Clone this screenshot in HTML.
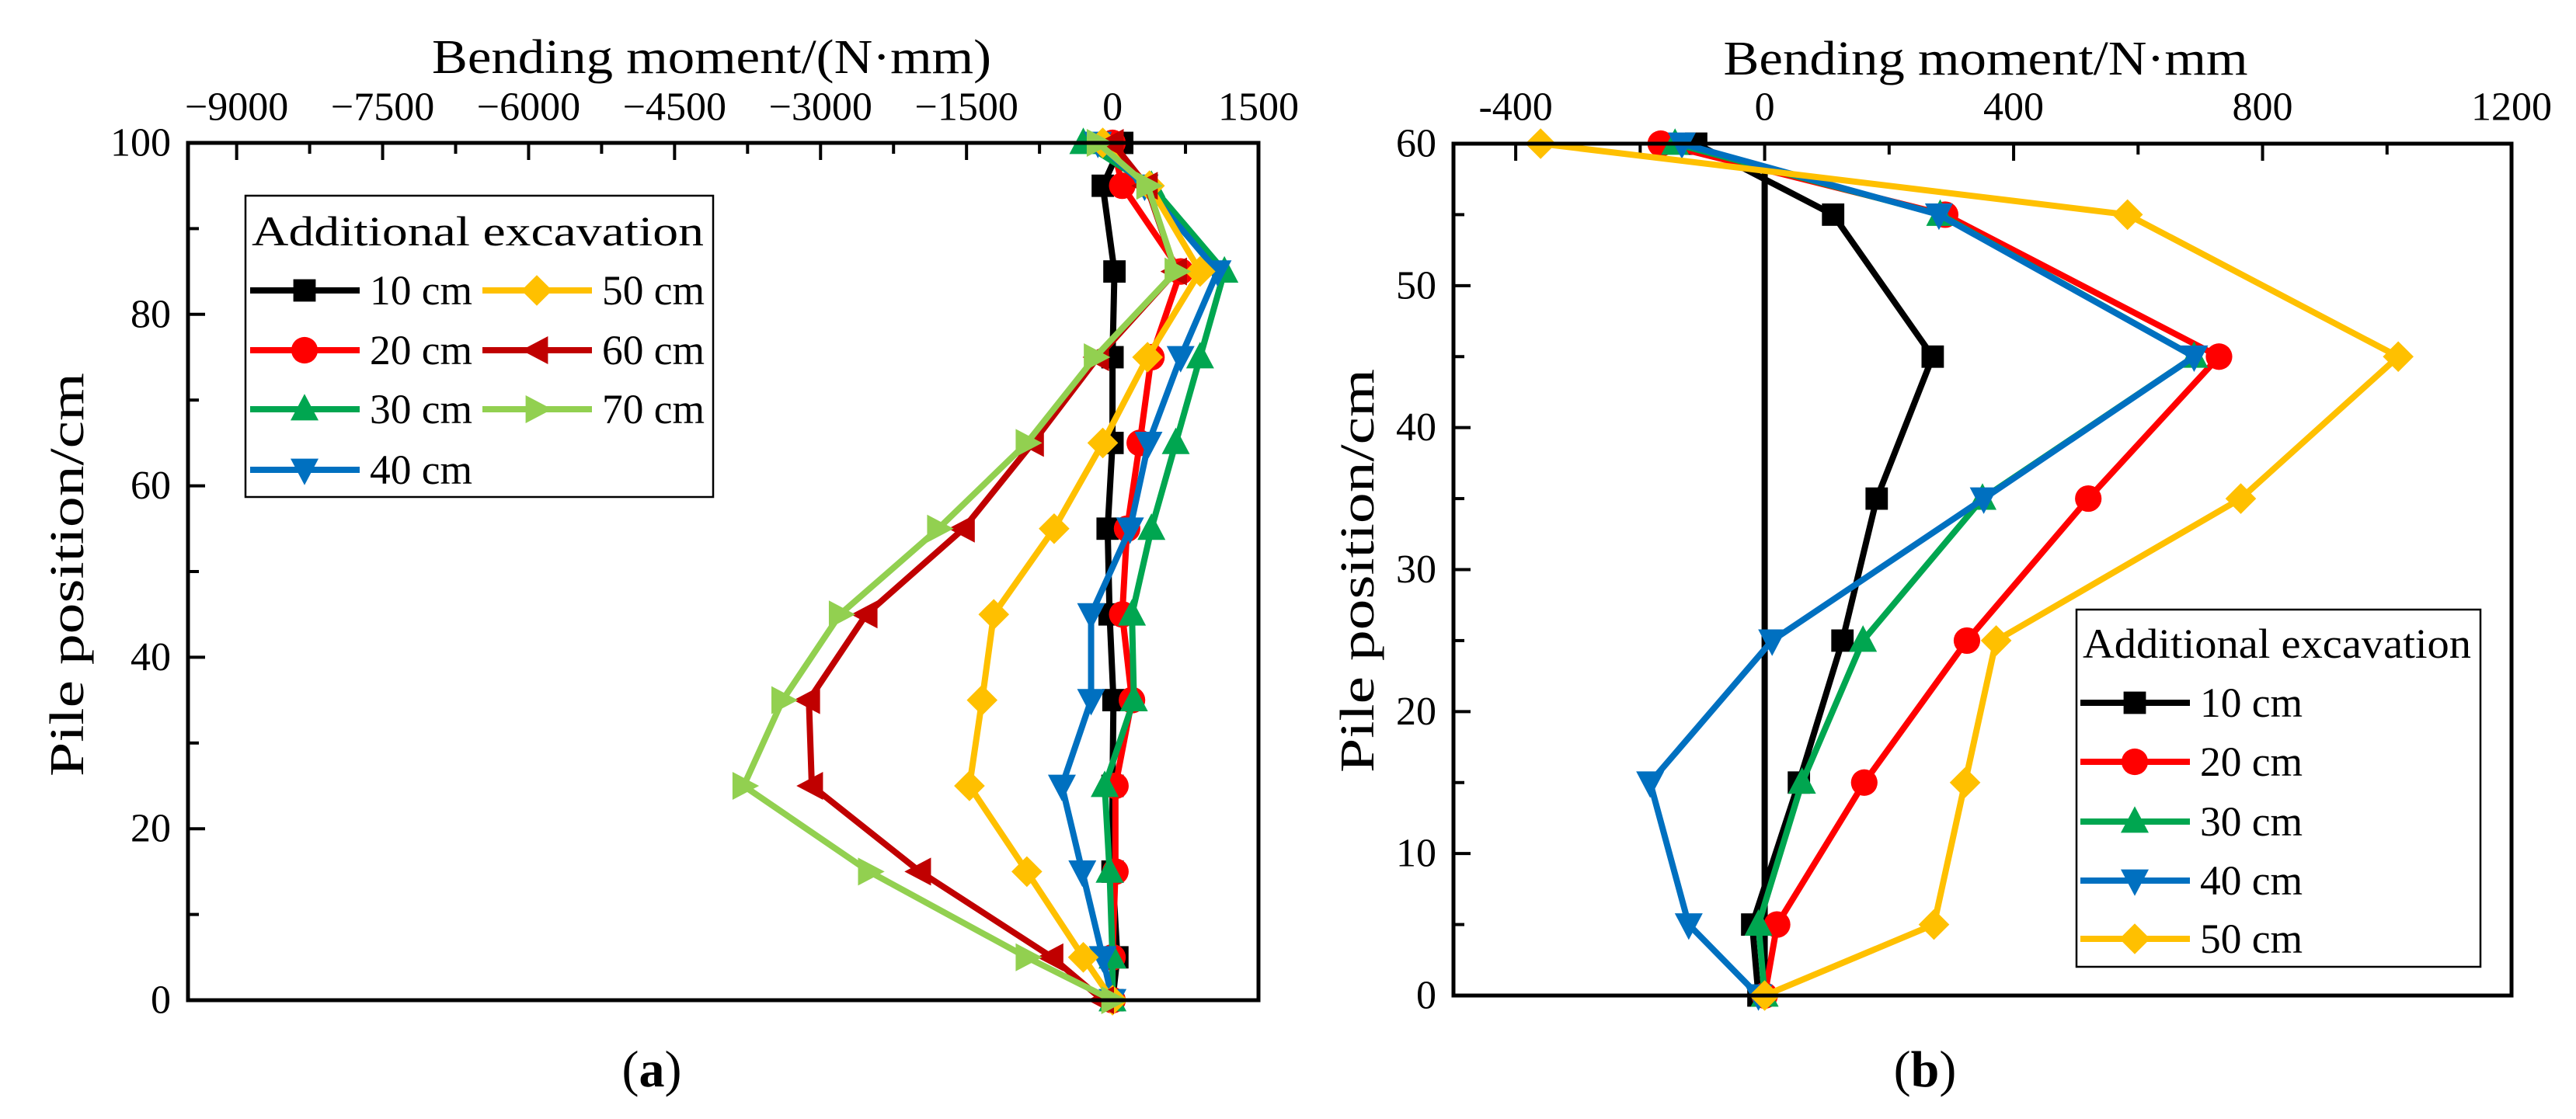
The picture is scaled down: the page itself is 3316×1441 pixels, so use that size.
<!DOCTYPE html>
<html><head><meta charset="utf-8"><style>
html,body{margin:0;padding:0;background:#fff}
svg{display:block}
text{font-family:"Liberation Serif",serif;fill:#000}
</style></head><body>
<svg id="svg" width="3316" height="1441" viewBox="0 0 3316 1441" xmlns="http://www.w3.org/2000/svg"></svg>
<script>
// ---- Panel (a) data ----
const yLevelsA = [0,5,15,25,35,45,55,65,75,85,95,100];
const seriesNamesA = ["10 cm","20 cm","30 cm","40 cm","50 cm","60 cm","70 cm"];
const a10 = [0,50,0,0,10,-30,-50,0,0,20,-100,100];
const a20 = [0,0,30,30,200,100,150,280,400,700,100,0];
const a30 = [0,0,-30,-80,220,200,400,650,900,1150,400,-300];
const a40 = [0,-100,-310,-520,-220,-220,180,370,700,1080,330,-150];
const a50 = [0,-300,-880,-1470,-1340,-1220,-600,-100,360,900,380,-100];
const a60 = [-100,-620,-1980,-3090,-3120,-2530,-1530,-820,-150,650,350,0];
const a70 = [0,-880,-2500,-3790,-3390,-2800,-1790,-880,-180,650,360,-150];
const xTicksA = [-9000,-7500,-6000,-4500,-3000,-1500,0,1500];
const yTicksA = [0,20,40,60,80,100];
// ---- Panel (b) data ----
const yLevelsB = [0,5,15,25,35,45,55,60];
const seriesNamesB = ["10 cm","20 cm","30 cm","40 cm","50 cm"];
const b10 = [-10,-20,55,125,180,270,110,-110];
const b20 = [0,20,160,325,520,730,290,-167];
const b30 = [0,-10,60,158,350,690,282,-144];
const b40 = [-10,-122,-184,12,352,690,280,-133];
const b50 = [0,272,322,372,765,1018,583,-360];
const xTicksB = [-400,0,400,800,1200];
const yTicksB = [0,10,20,30,40,50,60];

const colors=["#000000","#ff0000","#00a650","#0070c0","#ffc000","#c00000","#92d050"];
const markers=["square","circle","tri-up","tri-down","diamond","tri-left","tri-right"];
const NS="http://www.w3.org/2000/svg";
const svg=document.getElementById('svg');
function el(tag,attrs,parent){const e=document.createElementNS(NS,tag);for(const k in attrs)e.setAttribute(k,attrs[k]);(parent||svg).appendChild(e);return e;}
function txt(s,x,y,size,anchor,parent,extra){const t=el('text',Object.assign({x:x,y:y,'font-size':size,'text-anchor':anchor||'middle','dominant-baseline':'central'},extra||{}),parent);t.textContent=s;return t;}
function marker(g,type,x,y,c,s){
  let e;
  if(type==="square"){e=el('rect',{x:x-s*0.8,y:y-s*0.8,width:s*1.6,height:s*1.6,fill:c},g);}
  else if(type==="circle"){e=el('circle',{cx:x,cy:y,r:s*0.95,fill:c},g);}
  else{let p;
    if(type==="tri-up")p=[[x,y-s*1.1],[x-s,y+s*0.8],[x+s,y+s*0.8]];
    if(type==="tri-down")p=[[x,y+s*1.1],[x-s,y-s*0.8],[x+s,y-s*0.8]];
    if(type==="tri-left")p=[[x-s*1.1,y],[x+s*0.8,y-s],[x+s*0.8,y+s]];
    if(type==="tri-right")p=[[x+s*1.1,y],[x-s*0.8,y-s],[x-s*0.8,y+s]];
    if(type==="diamond")p=[[x,y-s*1.1],[x+s*1.1,y],[x,y+s*1.1],[x-s*1.1,y]];
    e=el('polygon',{points:p.map(q=>q.join(',')).join(' '),fill:c},g);}
  
  
}
function panel(cfg){
  const g=el('g',{});
  
  
  const {L,R,T,B,xmin,xmax,ymin,ymax}=cfg;
  const sx=v=>L+(v-xmin)/(xmax-xmin)*(R-L);
  const sy=v=>B-(v-ymin)/(ymax-ymin)*(B-T);
  for(let v=cfg.xMinorStart;v<=xmax;v+=cfg.xMinor){const x=sx(v);const len=(cfg.xTicks.includes(v))?22:14;
    const t=el('line',{x1:x,y1:T,x2:x,y2:T+len,stroke:'#000','stroke-width':4},g);
    }
  cfg.xTicks.forEach(v=>{const t=txt(cfg.xFmt(v),sx(v),138,52,'middle',g);});
  for(let v=ymin;v<=ymax;v+=cfg.yMinor){const y=sy(v);const len=(cfg.yTicks.includes(v))?22:14;
    const t=el('line',{x1:L,y1:y,x2:L+len,y2:y,stroke:'#000','stroke-width':4},g);
    }
  cfg.yTicks.forEach(v=>{const t=txt(String(v),L-22,sy(v),52,'end',g);});
  if(cfg.zeroLine){const z=el('line',{x1:sx(0),y1:sy(ymin),x2:sx(0),y2:sy(58),stroke:'#000','stroke-width':8},g);
    }
  cfg.series.forEach((s,i)=>{
    const sg=el('g',{},g);
    
    
    const pts=s.vals.map((v,j)=>[sx(v),sy(cfg.yLevels[j])]);
    el('polyline',{points:pts.map(p=>p.join(',')).join(' '),fill:'none',stroke:colors[i],'stroke-width':8,'stroke-linejoin':'round'},sg);
    pts.forEach(p=>marker(sg,markers[i],p[0],p[1],colors[i],18));
  });
  const fr=el('rect',{x:L,y:T,width:R-L,height:B-T,fill:'none',stroke:'#000','stroke-width':5},g);
  
  return g;
}
panel({name:'panel-a',L:242,R:1620,T:184,B:1288,xmin:-9500,xmax:1500,ymin:0,ymax:100,
  xMinorStart:-9000,xMinor:750,xTicks:xTicksA,yTicks:yTicksA,yMinor:10,yLevels:yLevelsA,
  xFmt:v=>v<0?'\u2212'+(-v):String(v),
  series:[a10,a20,a30,a40,a50,a60,a70].map((v,i)=>({vals:v,label:seriesNamesA[i]}))});
panel({name:'panel-b',L:1871,R:3233,T:185,B:1282,xmin:-500,xmax:1200,ymin:0,ymax:60,
  xMinorStart:-400,xMinor:200,xTicks:xTicksB,yTicks:yTicksB,yMinor:5,yLevels:yLevelsB,zeroLine:true,
  xFmt:v=>String(v),
  series:[b10,b20,b30,b40,b50].map((v,i)=>({vals:v,label:seriesNamesB[i]}))});

let t;
const LA='spacingAndGlyphs';
t=txt('Bending moment/(N\u00B7mm)',916,74,62,'middle',null,{textLength:720,lengthAdjust:LA});

t=txt('Bending moment/N\u00B7mm',2556,76,62,'middle',null,{textLength:675,lengthAdjust:LA});

t=txt('Pile position/cm',0,0,62,'middle',null,{transform:'translate(87,740) rotate(-90)',textLength:520,lengthAdjust:LA});

t=txt('Pile position/cm',0,0,62,'middle',null,{transform:'translate(1748,735) rotate(-90)',textLength:520,lengthAdjust:LA});

t=txt('(a)',839,1377,66,'middle');t.innerHTML='(<tspan font-weight="bold">a</tspan>)';

t=txt('(b)',2478,1377,66,'middle');t.innerHTML='(<tspan font-weight="bold">b</tspan>)';


function legend(name,x0,y0,w,h,titleY,entries){
  const g=el('g',{});
  
  
  el('rect',{x:x0,y:y0,width:w,height:h,fill:'#fff',stroke:'#000','stroke-width':2.5},g);
  const tt=txt('Additional excavation',x0+8,titleY,54,'start',g,{textLength:w-20,lengthAdjust:LA});
  
  entries.forEach(e=>{
    const eg=el('g',{},g);
    
    
    el('line',{x1:e.x,y1:e.y,x2:e.x+141,y2:e.y,stroke:colors[e.i],'stroke-width':8},eg);
    marker(eg,markers[e.i],e.x+70,e.y,colors[e.i],18);
    txt(e.label,e.x+154,e.y,54,'start',eg,{textLength:132,lengthAdjust:LA});
  });
}
const rowsA=[374,451,527,605];
const entA=[];
seriesNamesA.forEach((s,i)=>{const col=i<4?0:1;const row=i<4?i:i-4;
  entA.push({i:i,label:s,x:col?621:322,y:rowsA[row]});});
legend('legend-a',316,252,602,388,298,entA);
const rowsB=[905,981,1058,1134,1209];
legend('legend-b',2673,785,520,460,829,seriesNamesB.map((s,i)=>({i:i,label:s,x:2678,y:rowsB[i]})));
</script>
</body></html>
